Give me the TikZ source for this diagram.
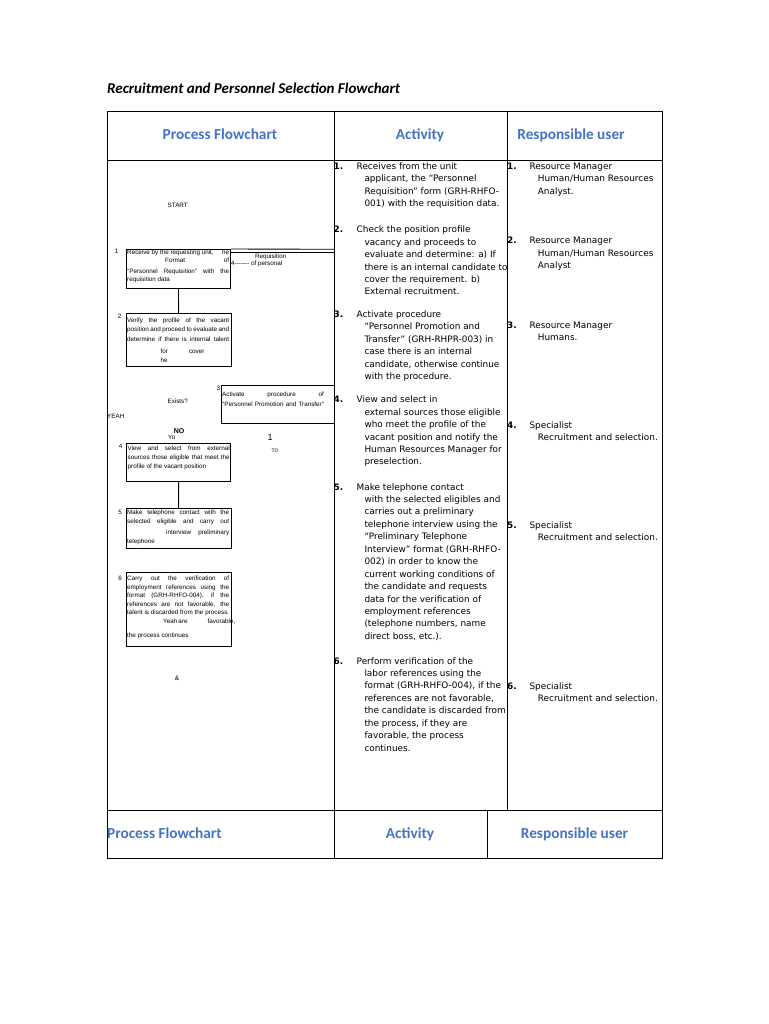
\documentclass[tikz,border=0pt]{standalone}
\usepackage{fontspec}
\newfontfamily\dejavu{DejaVu Sans}
\newfontfamily\carl{Carlito}
\newfontfamily\lsans{Liberation Sans}
\definecolor{hdrblue}{RGB}{68,114,196}
\newcommand\jstline[1]{\makebox[102pt][s]{#1}}
\newcommand\fxline[1]{\hbox to 102pt{#1}}
\begin{document}
\begin{tikzpicture}[x=1pt,y=-1pt,
  tbl/.style={line width=0.8pt,black},
  hdr/.style={font=\carl\bfseries\fontsize{15.3}{18}\selectfont,text=hdrblue,inner sep=0,anchor=base},
  act/.style={font=\dejavu\fontsize{8.9}{11}\selectfont,inner sep=0,anchor=base west},
  actnum/.style={font=\dejavu\bfseries\fontsize{8.9}{11}\selectfont,inner sep=0,anchor=base west},
  fct/.style={font=\lsans\fontsize{6.3}{7}\selectfont,inner sep=0,anchor=base west},
  fcl/.style={font=\lsans\fontsize{6.3}{7}\selectfont,inner sep=0},
  fbox/.style={draw,line width=0.9pt,inner sep=0,anchor=north west},
  conn/.style={line width=0.9pt}]
\useasboundingbox (0,0) rectangle (768,1024);
\fill[white] (0,0) rectangle (768,1024);

% title
\node[anchor=base west,inner sep=0,font=\carl\bfseries\itshape\fontsize{15}{18}\selectfont] (title) at (107,94) {Recruitment and Personnel Selection Flowchart};

% table
\draw[tbl] (107,111) rectangle (662,858);
\draw[tbl] (107,160) -- (662,160);
\draw[tbl] (107,810) -- (662,810);
\draw[tbl] (334,111) -- (334,810);
\draw[tbl] (507,111) -- (507,810);
\draw[tbl] (334,810) -- (334,858);
\draw[tbl] (487,810) -- (487,858);

% headers
\node[hdr] (h1) at (220,139.5) {Process Flowchart};
\node[hdr] (h2) at (420,139.5) {Activity};
\node[hdr] (h3) at (571,139.5) {Responsible user};
\node[hdr,anchor=base west] (f1) at (107,838.5) {Process Flowchart};
\node[hdr] (f2) at (410,838.5) {Activity};
\node[hdr] (f3) at (574.5,838.5) {Responsible user};

% ---------------- flowchart column
\node[fcl] (start) at (177.7,205) {START};

\node[fbox,minimum width=104.6pt,minimum height=39pt] (b1) at (125.7,249) {};
\node[fcl] (l1) at (116.7,251.7) {1};
\foreach \yy/\t [count=\i] in {
  254/{\fxline{Receive by the requesting unit,\hfill he}},
  262.3/{\fxline{\hskip 38pt Format\hfill of}},
  273.5/{\jstline{“Personnel Requisition” with the}},
  281.8/{requisition data}}
  \node[fct] (t1-\i) at (127,\yy) {\t};

\coordinate (r1) at (334,249.3);
\coordinate (r2) at (334,252.7);
\draw[conn] (b1.north east) -- (r1);
\draw[conn] (b1.north east |- r2) -- (r2);
\node[fcl] (req1) at (270.7,256.7) {Requisition};
\node[fcl,anchor=west] (req2) at (231,264) {4------- of personal};

\node[fbox,minimum width=105pt,minimum height=52.4pt] (b2) at (125.7,313.3) {};
\node[fcl] (l2) at (119.7,316.7) {2};
\foreach \yy/\t [count=\i] in {
  322.8/{\jstline{Verify the profile of the vacant}},
  331.8/{\jstline{position and proceed to evaluate and}},
  341.1/{\jstline{determine if there is internal talent}},
  353.5/{\fxline{\hskip 33.5pt for\hskip 21pt cover\hfill}},
  362.8/{\fxline{\hskip 33.5pt he\hfill}}}
  \node[fct] (t2-\i) at (127,\yy) {\t};
\draw[conn] (b1.south) -- (b2.north);

\node[fcl] (exists) at (177.7,401.7) {Exists?};
\node[fbox,minimum width=113pt,minimum height=38.3pt] (b3) at (220.7,385) {};
\node[fcl] (l3) at (218.3,388.3) {3};
\node[fct] (t3-1) at (222,396.8) {\hbox to 101.7pt{Activate\hfill procedure\hfill of}};
\node[fct] (t3-2) at (222,406.1) {\makebox[101.7pt][s]{“Personnel Promotion and Transfer”}};

\node[fcl,anchor=west] (yeah) at (107,416.7) {YEAH};
\node[fcl,font=\lsans\bfseries\fontsize{7}{8}\selectfont] (no) at (179,431) {NO};
\node[fcl] (yo) at (171.7,437.3) {Yo};
\node[fcl,font=\lsans\fontsize{9}{10}\selectfont] (one) at (270,437.3) {1};
\node[fcl,font=\lsans\fontsize{5}{6}\selectfont] (to) at (275,450.7) {TO};

\node[fbox,minimum width=104.3pt,minimum height=38.3pt] (b4) at (126,442.7) {};
\node[fcl] (l4) at (120.7,446.7) {4};
\foreach \yy/\t [count=\i] in {
  450.1/{\jstline{View and select from external}},
  459.3/{\jstline{sources those eligible that meet the}},
  468.8/{profile of the vacant position}}
  \node[fct] (t4-\i) at (127.5,\yy) {\t};

\node[fbox,minimum width=105pt,minimum height=39.4pt] (b5) at (125.7,508.3) {};
\node[fcl] (l5) at (120,512.7) {5};
\foreach \yy/\t [count=\i] in {
  514.5/{\jstline{Make telephone contact with the}},
  523.8/{\jstline{selected eligible and carry out}},
  534.1/{\fxline{\hskip 39pt interview\hfill preliminary}},
  543.5/{telephone}}
  \node[fct] (t5-\i) at (127,\yy) {\t};
\draw[conn] (b4.south) -- (b5.north);

\node[fbox,minimum width=105pt,minimum height=74.3pt] (b6) at (125.7,571.7) {};
\node[fcl] (l6) at (120,578.3) {6};
\foreach \yy/\t [count=\i] in {
  580.5/{\jstline{Carry out the verification of}},
  589.1/{\jstline{employment references using the}},
  597.8/{\jstline{format (GRH-RHFO-004), if the}},
  606.5/{\jstline{references are not favorable, the}},
  614.8/{\jstline{talent is discarded from the process.}},
  623.5/{\fxline{\hskip 36pt Yeah are\hskip 20pt favorable,\hfill}},
  637.8/{the process continues}}
  \node[fct] (t6-\i) at (127,\yy) {\t};

\node[fcl,font=\lsans\fontsize{6.5}{7}\selectfont] (amp) at (177,678) {\&};

% ---------------- activity column
\node[actnum] (an1) at (333.5,169.5) {1.};
\node[act] (a1) at (356.5,169.5) {Receives from the unit};
\foreach \t [count=\i] in {{applicant, the “Personnel},{Requisition” form (GRH-RHFO-},{001) with the requisition data.}}
  \node[act] (a1-\i) at (364.3,{169.5+\i*12.45}) {\t};

\node[actnum] (an2) at (333.5,232.7) {2.};
\node[act] (a2) at (356.5,232.7) {Check the position profile};
\foreach \t [count=\i] in {{vacancy and proceeds to},{evaluate and determine: a) If},{there is an internal candidate to},{cover the requirement. b)},{External recruitment.}}
  \node[act] (a2-\i) at (364.3,{232.7+\i*12.45}) {\t};

\node[actnum] (an3) at (333.5,317.3) {3.};
\node[act] (a3) at (356.5,317.3) {Activate procedure};
\foreach \t [count=\i] in {{“Personnel Promotion and},{Transfer” (GRH-RHPR-003) in},{case there is an internal},{candidate, otherwise continue},{with the procedure.}}
  \node[act] (a3-\i) at (364.3,{317.3+\i*12.45}) {\t};

\node[actnum] (an4) at (333.5,402.7) {4.};
\node[act] (a4) at (356.5,402.7) {View and select in};
\foreach \t [count=\i] in {{external sources those eligible},{who meet the profile of the},{vacant position and notify the},{Human Resources Manager for},{preselection.}}
  \node[act] (a4-\i) at (364.3,{402.7+\i*12.45}) {\t};

\node[actnum] (an5) at (333.5,490) {5.};
\node[act] (a5) at (356.5,490) {Make telephone contact};
\foreach \t [count=\i] in {{with the selected eligibles and},{carries out a preliminary},{telephone interview using the},{“Preliminary Telephone},{Interview” format (GRH-RHFO-},{002) in order to know the},{current working conditions of},{the candidate and requests},{data for the verification of},{employment references},{(telephone numbers, name},{direct boss, etc.).}}
  \node[act] (a5-\i) at (364.3,{490+\i*12.45}) {\t};

\node[actnum] (an6) at (333.5,664) {6.};
\node[act] (a6) at (356.5,664) {Perform verification of the};
\foreach \t [count=\i] in {{labor references using the},{format (GRH-RHFO-004), if the},{references are not favorable,},{the candidate is discarded from},{the process, if they are},{favorable, the process},{continues.}}
  \node[act] (a6-\i) at (364.3,{664+\i*12.45}) {\t};

% ---------------- responsible column
\node[actnum] (rn1) at (507,169.5) {1.};
\node[act] (r1a) at (529.3,169.5) {Resource Manager};
\node[act] (r1b) at (537.7,181.9) {Human/Human Resources};
\node[act] (r1c) at (537.7,194.4) {Analyst.};

\node[actnum] (rn2) at (507,243.5) {2.};
\node[act] (r2a) at (529.3,243.5) {Resource Manager};
\node[act] (r2b) at (537.7,256) {Human/Human Resources};
\node[act] (r2c) at (537.7,268.4) {Analyst};

\node[actnum] (rn3) at (507,328) {3.};
\node[act] (r3a) at (529.3,328) {Resource Manager};
\node[act] (r3b) at (537.7,340.5) {Humans.};

\node[actnum] (rn4) at (507,428) {4.};
\node[act] (r4a) at (529.3,428) {Specialist};
\node[act] (r4b) at (537.7,440.5) {Recruitment and selection.};

\node[actnum] (rn5) at (507,528) {5.};
\node[act] (r5a) at (529.3,528) {Specialist};
\node[act] (r5b) at (537.7,540.5) {Recruitment and selection.};

\node[actnum] (rn6) at (507,689.3) {6.};
\node[act] (r6a) at (529.3,689.3) {Specialist};
\node[act] (r6b) at (537.7,701.8) {Recruitment and selection.};
\end{tikzpicture}
\end{document}
